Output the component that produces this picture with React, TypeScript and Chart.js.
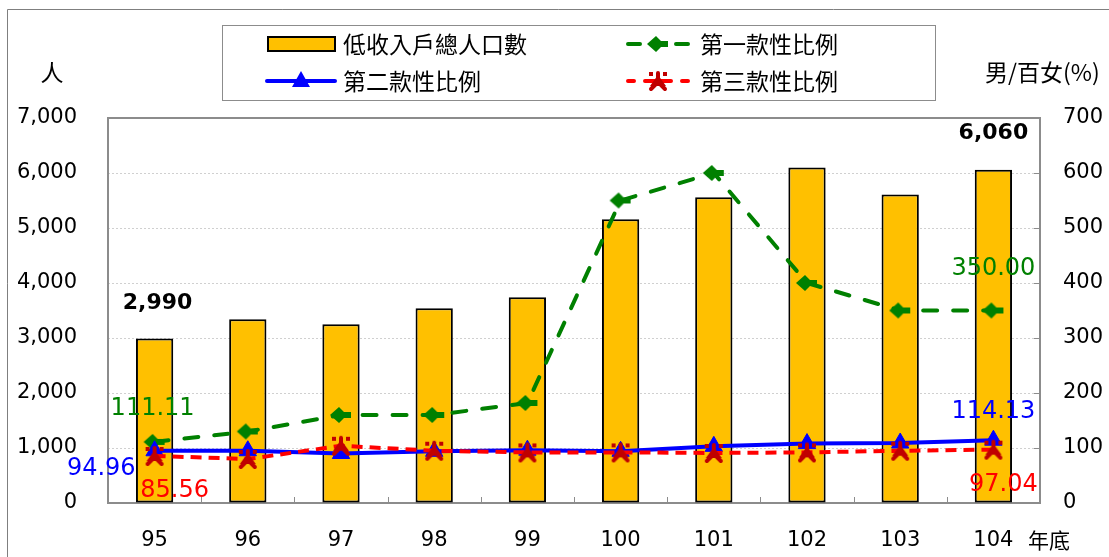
import React, { useEffect, useRef } from "react";
import { Chart, registerables } from "chart.js";

Chart.register(...registerables);

const categories = ["95", "96", "97", "98", "99", "100", "101", "102", "103", "104"];
const population = [2990, 3340, 3250, 3540, 3740, 5160, 5560, 6100, 5610, 6060];
const ratio1 = [111.11, 130, 160, 160, 181.82, 550, 600, 400, 350, 350];
const ratio2 = [94.96, 95, 90, 94, 96, 94, 103, 108, 109, 114.13];
const ratio3 = [85.56, 80, 104, 95, 92, 92, 91, 92, 95, 97.04];
const seriesNames = ["低收入戶總人口數", "第一款性比例", "第二款性比例", "第三款性比例"];
const leftTitle = "人";
const rightTitle = "男/百女(%)";
const xTitle = "年底";
const leftMax = 7000;
const leftStep = 1000;
const rightMax = 700;
const rightStep = 100;
const labelledIndexes = [0, 9];

const NUM_FONT = "'DejaVu Sans'";
const CJK_FONT = "'Noto Sans CJK TC'";
const GREEN = "#008000";
const BLUE = "#0000FF";
const RED = "#FF0000";
const DARKRED = "#C00000";
const GOLD = "#FFC000";

function makeGreenMarker(): HTMLCanvasElement {
  const c = document.createElement("canvas");
  c.width = 26;
  c.height = 20;
  const ctx = c.getContext("2d")!;
  ctx.fillStyle = GREEN;
  ctx.beginPath();
  ctx.moveTo(2, 10);
  ctx.lineTo(11, 2);
  ctx.lineTo(16, 7);
  ctx.lineTo(23, 7);
  ctx.lineTo(23, 13);
  ctx.lineTo(16, 13);
  ctx.lineTo(11, 18);
  ctx.closePath();
  ctx.fill();
  return c;
}

function makeRedMarker(): HTMLCanvasElement {
  const c = document.createElement("canvas");
  c.width = 24;
  c.height = 24;
  const ctx = c.getContext("2d")!;
  ctx.fillStyle = DARKRED;
  ctx.strokeStyle = DARKRED;
  ctx.lineWidth = 4;
  ctx.lineCap = "round";
  ctx.beginPath();
  ctx.moveTo(12, 6);
  ctx.lineTo(4, 17);
  ctx.lineTo(20, 17);
  ctx.closePath();
  ctx.fill();
  ctx.beginPath();
  ctx.moveTo(12, 4);
  ctx.lineTo(12, 13);
  ctx.moveTo(12, 13);
  ctx.lineTo(5, 20);
  ctx.moveTo(12, 13);
  ctx.lineTo(19, 20);
  ctx.stroke();
  ctx.fillRect(3, 3, 4, 4);
  ctx.fillRect(17, 3, 4, 4);
  return c;
}

export default function App() {
  const ref = useRef<HTMLCanvasElement>(null);

  useEffect(() => {
    const greenMarker = makeGreenMarker();
    const redMarker = makeRedMarker();

    const decorPlugin = {
      id: "decor",
      beforeDatasetsDraw(chart: any) {
        const { ctx, chartArea: a, scales } = chart;
        ctx.save();
        ctx.strokeStyle = "#8c8c8c";
        ctx.lineWidth = 1;
        for (let v = 0; v <= rightMax; v += rightStep) {
          const y = Math.round(scales.y1.getPixelForValue(v)) + 0.5;
          ctx.beginPath();
          ctx.moveTo(a.right, y);
          ctx.lineTo(a.right - 6, y);
          ctx.stroke();
        }
        const n = categories.length;
        const w = (a.right - a.left) / n;
        for (let i = 1; i < n; i++) {
          const x = Math.round(a.left + i * w) + 0.5;
          ctx.beginPath();
          ctx.moveTo(x, a.bottom);
          ctx.lineTo(x, a.bottom - 6);
          ctx.stroke();
        }
        ctx.strokeStyle = "#8c8c8c";
        ctx.lineWidth = 2;
        ctx.strokeRect(a.left, a.top, a.right - a.left, a.bottom - a.top);
        ctx.restore();
      },
      afterDatasetsDraw(chart: any) {
        const { ctx } = chart;
        ctx.save();
        ctx.strokeStyle = "#7f7f7f";
        ctx.lineWidth = 1;
        ctx.beginPath();
        ctx.moveTo(7.5, 557);
        ctx.lineTo(7.5, 9.5);
        ctx.lineTo(1109, 9.5);
        ctx.stroke();

        ctx.fillStyle = "#000";
        ctx.textBaseline = "middle";
        ctx.font = `23px ${CJK_FONT}`;
        ctx.textAlign = "center";
        ctx.fillText(leftTitle, 52, 72);
        ctx.textAlign = "left";
        ctx.fillText(rightTitle, 985, 72);
        ctx.font = `21px ${CJK_FONT}`;
        ctx.fillText(xTitle, 1028, 540);

        ctx.strokeStyle = "#8c8c8c";
        ctx.lineWidth = 1;
        ctx.strokeRect(222.5, 25.5, 713, 75);
        const r1 = 44;
        const r2 = 81;
        ctx.fillStyle = GOLD;
        ctx.fillRect(268, r1 - 7, 67, 14);
        ctx.strokeStyle = "#000";
        ctx.lineWidth = 2;
        ctx.strokeRect(268, r1 - 7, 67, 14);
        ctx.strokeStyle = BLUE;
        ctx.lineWidth = 4;
        ctx.lineCap = "round";
        ctx.beginPath();
        ctx.moveTo(267, r2);
        ctx.lineTo(335, r2);
        ctx.stroke();
        ctx.fillStyle = BLUE;
        ctx.beginPath();
        ctx.moveTo(301, r2 - 10);
        ctx.lineTo(310, r2 + 6);
        ctx.lineTo(292, r2 + 6);
        ctx.closePath();
        ctx.fill();
        ctx.strokeStyle = GREEN;
        ctx.lineWidth = 4;
        ctx.beginPath();
        ctx.moveTo(628, r1);
        ctx.lineTo(640, r1);
        ctx.moveTo(676, r1);
        ctx.lineTo(688, r1);
        ctx.stroke();
        ctx.drawImage(greenMarker, 658 - 13, r1 - 10);
        ctx.strokeStyle = RED;
        ctx.beginPath();
        ctx.moveTo(628, r2);
        ctx.lineTo(634, r2);
        ctx.moveTo(645, r2);
        ctx.lineTo(671, r2);
        ctx.moveTo(682, r2);
        ctx.lineTo(688, r2);
        ctx.stroke();
        ctx.drawImage(redMarker, 658 - 12, r2 - 12);
        ctx.fillStyle = "#000";
        ctx.font = `23px ${CJK_FONT}`;
        ctx.textAlign = "left";
        ctx.textBaseline = "middle";
        ctx.fillText(seriesNames[0], 343, r1);
        ctx.fillText(seriesNames[1], 700, r1);
        ctx.fillText(seriesNames[2], 343, r2);
        ctx.fillText(seriesNames[3], 700, r2);

        const pt = (ds: number, i: number) => chart.getDatasetMeta(ds).data[i];
        const draw = (
          text: string,
          x: number,
          y: number,
          color: string,
          bold: boolean,
          align: CanvasTextAlign = "center"
        ) => {
          ctx.font = `${bold ? "bold 22px" : "24px"} ${NUM_FONT}`;
          ctx.fillStyle = color;
          ctx.textAlign = align;
          ctx.textBaseline = "middle";
          ctx.fillText(text, x, y);
        };
        const [first, last] = labelledIndexes;
        let p = pt(0, first);
        draw(population[first].toLocaleString("en-US"), p.x + 3, p.y - 35, "#000", true);
        p = pt(0, last);
        draw(population[last].toLocaleString("en-US"), p.x, p.y - 36, "#000", true);
        p = pt(1, first);
        draw(ratio1[first].toFixed(2), p.x - 2, p.y - 33, GREEN, false);
        p = pt(1, last);
        draw(ratio1[last].toFixed(2), p.x, p.y - 42, GREEN, false);
        p = pt(2, first);
        draw(ratio2[first].toFixed(2), p.x - 19, p.y + 18, BLUE, false, "right");
        p = pt(2, last);
        draw(ratio2[last].toFixed(2), p.x, p.y - 28, BLUE, false);
        p = pt(3, first);
        draw(ratio3[first].toFixed(2), p.x + 20, p.y + 35, RED, false);
        p = pt(3, last);
        draw(ratio3[last].toFixed(2), p.x + 10, p.y + 35, RED, false);
        ctx.restore();
      },
    };

    const chart = new Chart(ref.current!, {
      type: "bar",
      data: {
        labels: categories,
        datasets: [
          {
            type: "bar",
            label: seriesNames[0],
            data: population,
            yAxisID: "y",
            backgroundColor: GOLD,
            borderColor: "#000",
            borderWidth: 2,
            borderSkipped: false,
            categoryPercentage: 1,
            barPercentage: 0.4,
            order: 4,
          },
          {
            type: "line",
            label: seriesNames[1],
            data: ratio1,
            yAxisID: "y1",
            borderColor: GREEN,
            borderWidth: 4,
            borderDash: [14, 16],
            borderCapStyle: "round",
            tension: 0,
            pointStyle: greenMarker,
            order: 3,
          },
          {
            type: "line",
            label: seriesNames[2],
            data: ratio2,
            yAxisID: "y1",
            borderColor: BLUE,
            borderWidth: 4,
            tension: 0,
            pointStyle: "triangle",
            pointRadius: 10,
            pointBackgroundColor: BLUE,
            pointBorderColor: BLUE,
            pointBorderWidth: 1,
            order: 2,
          },
          {
            type: "line",
            label: seriesNames[3],
            data: ratio3,
            yAxisID: "y1",
            borderColor: RED,
            borderWidth: 4,
            borderDash: [11, 7],
            tension: 0,
            pointStyle: redMarker,
            order: 1,
          },
        ] as any,
      },
      options: {
        responsive: false,
        animation: false,
        devicePixelRatio: 1,
        layout: { padding: { left: 0, right: 0, top: 118, bottom: 0 } },
        plugins: {
          legend: { display: false },
          tooltip: { enabled: false },
          title: { display: false },
        },
        scales: {
          x: {
            type: "category",
            grid: { display: false, drawTicks: false },
            border: { display: false },
            ticks: {
              color: "#000",
              font: { family: NUM_FONT, size: 21 },
              padding: 25,
              maxRotation: 0,
              autoSkip: false,
            },
            afterFit(scale: any) {
              scale.height = 54;
            },
          },
          y: {
            position: "left",
            min: 0,
            max: leftMax,
            grid: { color: "#d0d0d0", lineWidth: 1, drawTicks: false },
            border: { display: false, dash: [2, 2] },
            ticks: {
              stepSize: leftStep,
              color: "#000",
              font: { family: NUM_FONT, size: 21 },
              padding: 31,
              callback: (v: any) => Number(v).toLocaleString("en-US"),
            },
            afterFit(scale: any) {
              scale.width = 108;
            },
          },
          y1: {
            position: "right",
            min: 0,
            max: rightMax,
            grid: { display: false, drawTicks: false },
            border: { display: false },
            ticks: {
              stepSize: rightStep,
              color: "#000",
              font: { family: NUM_FONT, size: 21 },
              padding: 23,
            },
            afterFit(scale: any) {
              scale.width = 69;
            },
          },
        },
      } as any,
      plugins: [decorPlugin],
    });
    return () => chart.destroy();
  }, []);

  return (
    <div
      style={{
        position: "absolute",
        left: 0,
        top: 0,
        width: 1109,
        height: 557,
        background: "#fff",
      }}
    >
      <canvas ref={ref} width={1109} height={557} style={{ display: "block" }} />
    </div>
  );
}
